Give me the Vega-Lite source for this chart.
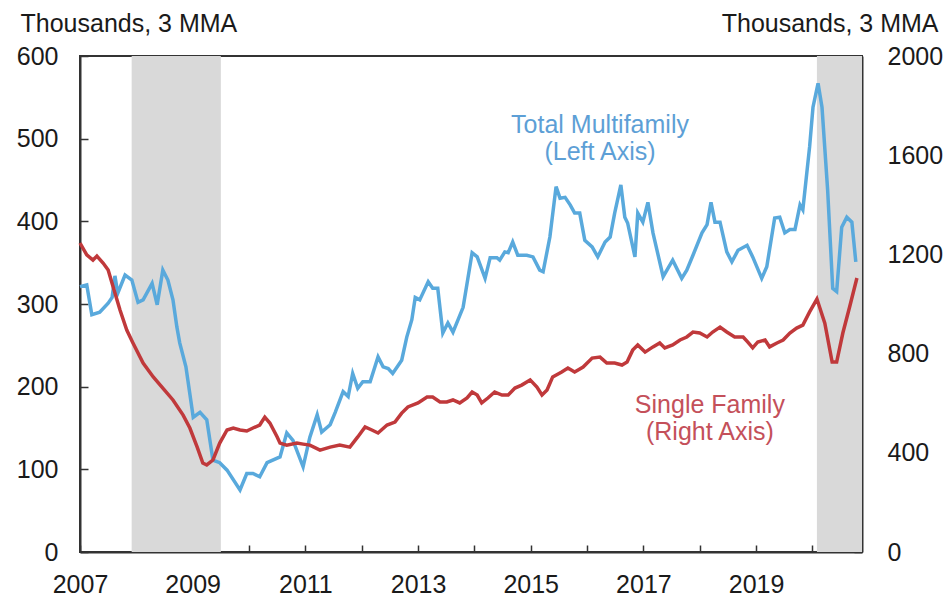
{
  "$schema": "https://vega.github.io/schema/vega-lite/v6.json",
  "width": 782,
  "height": 496,
  "autosize": {"type": "none"},
  "padding": {"left": 80, "top": 56, "right": 84, "bottom": 47},
  "background": "white",
  "config": {
    "font": "Liberation Sans",
    "view": {"stroke": "#333333", "strokeWidth": 2},
    "axis": {
      "grid": false,
      "domainColor": "#333333",
      "domainWidth": 2,
      "tickColor": "#333333",
      "tickWidth": 1.5,
      "labelFont": "Liberation Sans",
      "labelFontSize": 25,
      "labelColor": "#1a1a1a",
      "titleFont": "Liberation Sans",
      "titleFontSize": 25,
      "titleFontWeight": "normal",
      "titleColor": "#1a1a1a"
    },
    "axisBottom": {"tickSize": -7, "labelPadding": 27, "labelFlush": false},
    "axisLeft": {"tickSize": -8, "labelPadding": 30, "titleAngle": 0, "titleX": -60, "titleY": -25, "titleAlign": "left", "titleBaseline": "alphabetic", "titleAnchor": null},
    "axisRight": {"tickSize": -8, "labelPadding": 33, "titleAngle": 0, "titleX": 76, "titleY": -25, "titleAlign": "right", "titleBaseline": "alphabetic", "titleAnchor": null}
  },
  "datasets": {
    "rec": [
      {"start": 2007.917, "end": 2009.5},
      {"start": 2020.08, "end": 2020.88}
    ],
    "mf": [
      {"t": 2007.00, "mf": 321}, {"t": 2007.12, "mf": 323}, {"t": 2007.21, "mf": 287}, {"t": 2007.35, "mf": 290},
      {"t": 2007.50, "mf": 301}, {"t": 2007.57, "mf": 308}, {"t": 2007.62, "mf": 334}, {"t": 2007.67, "mf": 313},
      {"t": 2007.80, "mf": 335}, {"t": 2007.92, "mf": 329}, {"t": 2008.03, "mf": 302}, {"t": 2008.12, "mf": 305},
      {"t": 2008.28, "mf": 325}, {"t": 2008.37, "mf": 299}, {"t": 2008.47, "mf": 341}, {"t": 2008.56, "mf": 329},
      {"t": 2008.65, "mf": 305}, {"t": 2008.72, "mf": 272}, {"t": 2008.77, "mf": 253}, {"t": 2008.88, "mf": 224},
      {"t": 2009.01, "mf": 163}, {"t": 2009.13, "mf": 169}, {"t": 2009.25, "mf": 160}, {"t": 2009.36, "mf": 111},
      {"t": 2009.48, "mf": 108}, {"t": 2009.61, "mf": 99}, {"t": 2009.84, "mf": 75}, {"t": 2009.96, "mf": 95},
      {"t": 2010.07, "mf": 95}, {"t": 2010.19, "mf": 91}, {"t": 2010.32, "mf": 108}, {"t": 2010.55, "mf": 115},
      {"t": 2010.67, "mf": 144}, {"t": 2010.78, "mf": 135}, {"t": 2010.96, "mf": 103}, {"t": 2011.08, "mf": 139},
      {"t": 2011.21, "mf": 166}, {"t": 2011.29, "mf": 145}, {"t": 2011.44, "mf": 154}, {"t": 2011.53, "mf": 169},
      {"t": 2011.67, "mf": 194}, {"t": 2011.76, "mf": 188}, {"t": 2011.84, "mf": 216}, {"t": 2011.93, "mf": 198},
      {"t": 2012.02, "mf": 206}, {"t": 2012.15, "mf": 206}, {"t": 2012.29, "mf": 236}, {"t": 2012.38, "mf": 224},
      {"t": 2012.47, "mf": 222}, {"t": 2012.55, "mf": 216}, {"t": 2012.71, "mf": 232}, {"t": 2012.80, "mf": 260},
      {"t": 2012.89, "mf": 281}, {"t": 2012.95, "mf": 308}, {"t": 2013.03, "mf": 305}, {"t": 2013.18, "mf": 327},
      {"t": 2013.26, "mf": 319}, {"t": 2013.35, "mf": 319}, {"t": 2013.44, "mf": 265}, {"t": 2013.53, "mf": 277},
      {"t": 2013.62, "mf": 266}, {"t": 2013.80, "mf": 296}, {"t": 2013.96, "mf": 362}, {"t": 2014.05, "mf": 357},
      {"t": 2014.19, "mf": 331}, {"t": 2014.28, "mf": 356}, {"t": 2014.40, "mf": 356}, {"t": 2014.45, "mf": 353},
      {"t": 2014.54, "mf": 363}, {"t": 2014.60, "mf": 362}, {"t": 2014.68, "mf": 375}, {"t": 2014.77, "mf": 359},
      {"t": 2014.93, "mf": 359}, {"t": 2015.04, "mf": 357}, {"t": 2015.16, "mf": 341}, {"t": 2015.22, "mf": 339},
      {"t": 2015.34, "mf": 381}, {"t": 2015.45, "mf": 442}, {"t": 2015.52, "mf": 428}, {"t": 2015.61, "mf": 429},
      {"t": 2015.70, "mf": 420}, {"t": 2015.78, "mf": 410}, {"t": 2015.87, "mf": 410}, {"t": 2015.96, "mf": 377},
      {"t": 2016.09, "mf": 369}, {"t": 2016.19, "mf": 357}, {"t": 2016.32, "mf": 375}, {"t": 2016.41, "mf": 381},
      {"t": 2016.49, "mf": 410}, {"t": 2016.60, "mf": 444}, {"t": 2016.67, "mf": 405}, {"t": 2016.72, "mf": 398},
      {"t": 2016.85, "mf": 357}, {"t": 2016.90, "mf": 410}, {"t": 2016.99, "mf": 399}, {"t": 2017.08, "mf": 423},
      {"t": 2017.17, "mf": 386}, {"t": 2017.35, "mf": 333}, {"t": 2017.52, "mf": 353}, {"t": 2017.68, "mf": 331},
      {"t": 2017.77, "mf": 341}, {"t": 2017.88, "mf": 359}, {"t": 2018.04, "mf": 386}, {"t": 2018.13, "mf": 396},
      {"t": 2018.20, "mf": 423}, {"t": 2018.27, "mf": 399}, {"t": 2018.36, "mf": 399}, {"t": 2018.48, "mf": 363},
      {"t": 2018.57, "mf": 351}, {"t": 2018.68, "mf": 365}, {"t": 2018.84, "mf": 371}, {"t": 2018.94, "mf": 357},
      {"t": 2019.10, "mf": 331}, {"t": 2019.19, "mf": 345}, {"t": 2019.33, "mf": 404}, {"t": 2019.42, "mf": 405},
      {"t": 2019.51, "mf": 386}, {"t": 2019.60, "mf": 390}, {"t": 2019.69, "mf": 390}, {"t": 2019.78, "mf": 420},
      {"t": 2019.83, "mf": 414}, {"t": 2019.95, "mf": 490}, {"t": 2020.01, "mf": 538}, {"t": 2020.10, "mf": 567},
      {"t": 2020.17, "mf": 538}, {"t": 2020.27, "mf": 438}, {"t": 2020.36, "mf": 319}, {"t": 2020.43, "mf": 315},
      {"t": 2020.52, "mf": 393}, {"t": 2020.61, "mf": 405}, {"t": 2020.70, "mf": 399}, {"t": 2020.77, "mf": 351}
    ],
    "sf": [
      {"t": 2007.00, "sf": 1246}, {"t": 2007.12, "sf": 1198}, {"t": 2007.23, "sf": 1177}, {"t": 2007.30, "sf": 1193},
      {"t": 2007.41, "sf": 1165}, {"t": 2007.50, "sf": 1137}, {"t": 2007.59, "sf": 1068}, {"t": 2007.71, "sf": 976},
      {"t": 2007.83, "sf": 895}, {"t": 2007.94, "sf": 843}, {"t": 2008.12, "sf": 762}, {"t": 2008.30, "sf": 706},
      {"t": 2008.47, "sf": 661}, {"t": 2008.65, "sf": 613}, {"t": 2008.83, "sf": 552}, {"t": 2008.95, "sf": 500},
      {"t": 2009.08, "sf": 423}, {"t": 2009.18, "sf": 359}, {"t": 2009.25, "sf": 351}, {"t": 2009.36, "sf": 371},
      {"t": 2009.48, "sf": 439}, {"t": 2009.61, "sf": 492}, {"t": 2009.72, "sf": 500}, {"t": 2009.84, "sf": 492},
      {"t": 2009.96, "sf": 488}, {"t": 2010.07, "sf": 500}, {"t": 2010.19, "sf": 512}, {"t": 2010.28, "sf": 544},
      {"t": 2010.37, "sf": 520}, {"t": 2010.50, "sf": 464}, {"t": 2010.55, "sf": 439}, {"t": 2010.67, "sf": 431},
      {"t": 2010.85, "sf": 439}, {"t": 2010.96, "sf": 435}, {"t": 2011.08, "sf": 431}, {"t": 2011.26, "sf": 411},
      {"t": 2011.44, "sf": 423}, {"t": 2011.61, "sf": 431}, {"t": 2011.79, "sf": 423}, {"t": 2011.93, "sf": 464},
      {"t": 2012.06, "sf": 504}, {"t": 2012.18, "sf": 492}, {"t": 2012.29, "sf": 480}, {"t": 2012.45, "sf": 512},
      {"t": 2012.59, "sf": 524}, {"t": 2012.71, "sf": 560}, {"t": 2012.82, "sf": 585}, {"t": 2013.00, "sf": 601},
      {"t": 2013.16, "sf": 625}, {"t": 2013.26, "sf": 625}, {"t": 2013.39, "sf": 605}, {"t": 2013.51, "sf": 605},
      {"t": 2013.62, "sf": 613}, {"t": 2013.74, "sf": 601}, {"t": 2013.87, "sf": 621}, {"t": 2013.96, "sf": 645},
      {"t": 2014.05, "sf": 633}, {"t": 2014.13, "sf": 601}, {"t": 2014.24, "sf": 621}, {"t": 2014.36, "sf": 645},
      {"t": 2014.49, "sf": 633}, {"t": 2014.60, "sf": 633}, {"t": 2014.72, "sf": 661}, {"t": 2014.84, "sf": 673},
      {"t": 2014.99, "sf": 694}, {"t": 2015.11, "sf": 665}, {"t": 2015.20, "sf": 633}, {"t": 2015.29, "sf": 653},
      {"t": 2015.39, "sf": 706}, {"t": 2015.55, "sf": 726}, {"t": 2015.66, "sf": 742}, {"t": 2015.78, "sf": 726},
      {"t": 2015.93, "sf": 746}, {"t": 2016.09, "sf": 782}, {"t": 2016.23, "sf": 786}, {"t": 2016.35, "sf": 762},
      {"t": 2016.49, "sf": 762}, {"t": 2016.62, "sf": 754}, {"t": 2016.71, "sf": 766}, {"t": 2016.81, "sf": 814},
      {"t": 2016.90, "sf": 835}, {"t": 2017.03, "sf": 806}, {"t": 2017.17, "sf": 827}, {"t": 2017.29, "sf": 843},
      {"t": 2017.38, "sf": 823}, {"t": 2017.52, "sf": 835}, {"t": 2017.65, "sf": 855}, {"t": 2017.77, "sf": 867},
      {"t": 2017.88, "sf": 887}, {"t": 2018.00, "sf": 883}, {"t": 2018.13, "sf": 867}, {"t": 2018.23, "sf": 887},
      {"t": 2018.36, "sf": 907}, {"t": 2018.48, "sf": 887}, {"t": 2018.62, "sf": 867}, {"t": 2018.77, "sf": 867},
      {"t": 2018.85, "sf": 847}, {"t": 2018.94, "sf": 823}, {"t": 2019.03, "sf": 847}, {"t": 2019.16, "sf": 855},
      {"t": 2019.24, "sf": 827}, {"t": 2019.37, "sf": 843}, {"t": 2019.48, "sf": 855}, {"t": 2019.60, "sf": 883},
      {"t": 2019.72, "sf": 903}, {"t": 2019.83, "sf": 915}, {"t": 2019.95, "sf": 968}, {"t": 2020.08, "sf": 1020},
      {"t": 2020.22, "sf": 923}, {"t": 2020.35, "sf": 766}, {"t": 2020.43, "sf": 766}, {"t": 2020.54, "sf": 883},
      {"t": 2020.66, "sf": 988}, {"t": 2020.79, "sf": 1105}
    ],
    "mflab": [{"t": 2016.23, "mf": 507, "label": "Total Multifamily\n(Left Axis)"}],
    "sflab": [{"t": 2018.18, "sf": 560, "label": "Single Family\n(Right Axis)"}]
  },
  "layer": [
    {
      "data": {"name": "rec"},
      "mark": {"type": "rect", "color": "#d9d9d9"},
      "encoding": {
        "x": {
          "field": "start", "type": "quantitative",
          "scale": {"domain": [2007, 2020.88], "nice": false, "zero": false},
          "axis": {"title": null, "values": [2007, 2008, 2009, 2010, 2011, 2012, 2013, 2014, 2015, 2016, 2017, 2018, 2019, 2020], "format": "d", "labelExpr": "datum.value % 2 == 1 ? datum.label : ''"}
        },
        "x2": {"field": "end"}
      }
    },
    {
      "layer": [
        {
          "data": {"name": "mf"},
          "mark": {"type": "line", "color": "#59a9dc", "strokeWidth": 3.5},
          "encoding": {
            "x": {"field": "t", "type": "quantitative", "title": null},
            "y": {"field": "mf", "type": "quantitative", "title": "Thousands, 3 MMA", "scale": {"domain": [0, 600], "nice": false}, "axis": {"orient": "left", "format": "d", "values": [0, 100, 200, 300, 400, 500, 600]}}
          }
        },
        {
          "data": {"name": "mflab"},
          "mark": {"type": "text", "color": "#5d9fd6", "fontSize": 25, "align": "center", "baseline": "alphabetic", "lineBreak": "\n", "lineHeight": 27},
          "encoding": {
            "x": {"field": "t", "type": "quantitative", "title": null},
            "y": {"field": "mf", "type": "quantitative", "title": "Thousands, 3 MMA"},
            "text": {"field": "label"}
          }
        }
      ]
    },
    {
      "layer": [
        {
          "data": {"name": "sf"},
          "mark": {"type": "line", "color": "#c0393b", "strokeWidth": 3.5},
          "encoding": {
            "x": {"field": "t", "type": "quantitative", "title": null},
            "y": {"field": "sf", "type": "quantitative", "title": "Thousands, 3 MMA", "scale": {"domain": [0, 2000], "nice": false}, "axis": {"orient": "right", "format": "d", "values": [0, 400, 800, 1200, 1600, 2000]}}
          }
        },
        {
          "data": {"name": "sflab"},
          "mark": {"type": "text", "color": "#c4505a", "fontSize": 25, "align": "center", "baseline": "alphabetic", "lineBreak": "\n", "lineHeight": 27},
          "encoding": {
            "x": {"field": "t", "type": "quantitative", "title": null},
            "y": {"field": "sf", "type": "quantitative", "title": "Thousands, 3 MMA"},
            "text": {"field": "label"}
          }
        }
      ]
    }
  ],
  "resolve": {"scale": {"y": "independent"}}
}
